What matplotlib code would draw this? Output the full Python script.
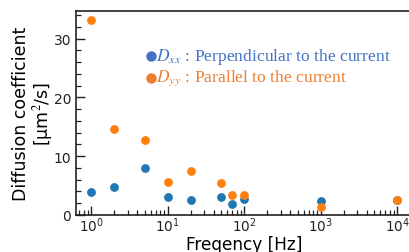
import matplotlib
matplotlib.use("Agg")
import matplotlib.pyplot as plt

freq = [1, 2, 5, 10, 20, 50, 70, 100, 1000, 10000]
dxx = [3.86, 4.8, 8.0, 3.0, 2.55, 3.1, 1.9, 2.8, 2.3, 2.5]
dyy = [33.1, 14.6, 12.75, 5.6, 7.4, 5.4, 3.45, 3.35, 1.4, 2.55]
label_xx = r"$D_{xx}$ : Perpendicular to the current"
label_yy = r"$D_{yy}$ : Parallel to the current"

plt.rcParams["mathtext.fontset"] = "stix"

fig = plt.figure(figsize=(4.09, 2.53), dpi=100)
W, H = 409, 253
ax = fig.add_axes([76 / W, 37 / H, (412.5 - 76) / W, (241 - 37) / H])

ax.scatter(freq, dxx, s=40, color="#1f77b4", zorder=3, linewidths=0)
ax.scatter(freq, dyy, s=40, color="#ff7f0e", zorder=3, linewidths=0)

ax.set_xscale("log")
ax.set_xlim(10 ** -0.2, 10 ** 4.2)
ax.set_ylim(0, 34.7)
ax.set_yticks([0, 10, 20, 30])
ax.set_yticks([2, 4, 6, 8, 12, 14, 16, 18, 22, 24, 26, 28, 32, 34], minor=True)
ax.tick_params(which="both", direction="in", top=False, right=False, labelsize=10, colors="#222222")
ax.tick_params(axis="x", labelsize=9.8)
ax.tick_params(which="major", length=6.5, width=1.0)
ax.tick_params(which="minor", length=3.5, width=0.9)
ax.tick_params(axis="x", which="major", pad=0.5)
for sp in ax.spines.values():
    sp.set_linewidth(1.2)
    sp.set_color("#222222")

ax.set_xlabel("Freqency [Hz]", fontsize=12.2, labelpad=0.3)
ax.set_ylabel("Diffusion coefficient\n[μm$^2$/s]", fontsize=12.5, labelpad=-1.2, linespacing=1.05)

# legend-like annotations
for yy, col, lab in [(0.777, "#4472C4", label_xx), (0.674, "#ED7D31", label_yy)]:
    ax.plot([0.222], [yy], marker="o", ms=6.5, color=col, transform=ax.transAxes,
            clip_on=False, linestyle="none")
    ax.text(0.238, yy, lab, transform=ax.transAxes, color=col, fontsize=12.6,
            family="Liberation Serif", va="center", ha="left")

fig.savefig("out.png", dpi=100)
